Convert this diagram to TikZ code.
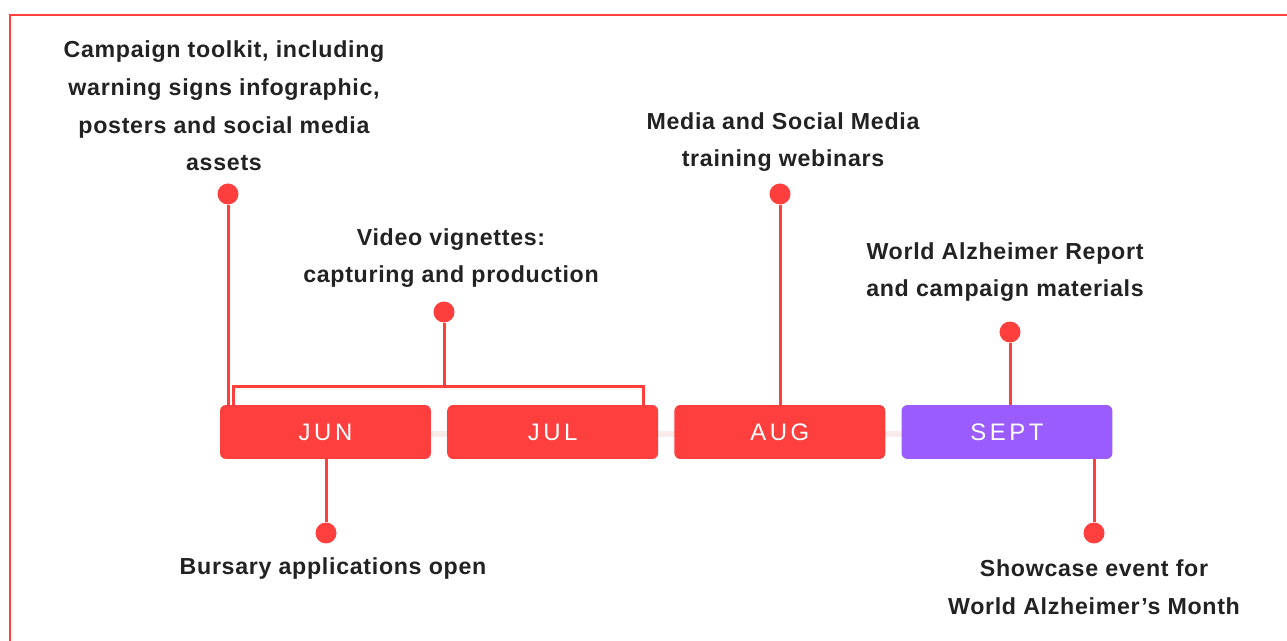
\documentclass[tikz,border=0pt]{standalone}
\usepackage{fontspec}
\setmainfont{Liberation Sans}
\newfontfamily\monthfont[LetterSpace=15]{Liberation Sans}
\newfontfamily\notefont[LetterSpace=3]{Liberation Sans}
\usetikzlibrary{positioning}
\definecolor{tlred}{HTML}{FF3E3E}
\definecolor{tlpurple}{HTML}{9A5CFF}
\definecolor{tltext}{HTML}{222222}
\definecolor{tlbar}{HTML}{FBECEC}
\tikzset {
  month/.style = {
    fill = tlred,
    rounded corners = 1.2mm,
    minimum width = 4.22cm,
    minimum height = 1.08cm,
    inner sep = 0,
    text = white,
    font = \monthfont\fontsize{13.6}{16}\selectfont
  },
  % the month of the event
  monthnow/.style = {
    month,
    fill = tlpurple
  },
  % end of a stem
  dot/.style = {
    circle,
    fill = tlred,
    minimum size = 0.42cm,
    inner sep = 0
  },
  note/.style = {
    align = center,
    inner sep = 0,
    text = tltext,
    font = \notefont\bfseries\fontsize{13.2}{21.5}\selectfont
  },
  stem/.style = {
    draw = tlred,
    line width = 0.06cm
  },
  node distance = 0.31cm
}

\begin{document}
\begin{tikzpicture}[x=0.02cm, y=-0.02cm]
    \useasboundingbox (0,0) rectangle (1287,641);

    % frame
    \draw[tlred, line width=0.03cm] (10,641) |- (1287,15);

    % faint bar behind the months
    \coordinate (bar start) at (326,434);
    \coordinate (bar end) at (1006,434);
    \draw[tlbar, line width=0.14cm] (bar start) -- (bar end);

    \node[month] (jun) at (325.5,432) {JUN};
    \node[month] (jul) [right=of jun] {JUL};
    \node[month] (aug) [right=of jul] {AUG};
    \node[monthnow] (sept) [right=of aug] {SEPT};

    \node[dot] (toolkit dot) at (228,194) {};
    \node[dot] (video dot) at (444,312) {};
    \node[dot] (webinar dot) at (780,194) {};
    \node[dot] (report dot) at (1010,332) {};
    \node[dot] (bursary dot) at (326,533) {};
    \node[dot] (showcase dot) at (1094,533) {};

    \node[note] (toolkit) at (224,106)
      {Campaign toolkit, including\\warning signs infographic,\\posters and social media\\assets};
    \node[note] (video) at (451,258) {Video vignettes:\\capturing and production};
    \node[note] (webinar) at (783,142) {Media and Social Media\\training webinars};
    \node[note] (report) at (1005,272) {World Alzheimer Report\\and campaign materials};
    \node[note] (bursary) at (333,569) {Bursary applications open};
    \node[note] (showcase) at (1094,587) {Showcase event for\\World Alzheimer’s Month};

    % stems
    \draw[stem] (toolkit dot) -- (toolkit dot |- jun.north);
    \draw[stem] (webinar dot) -- (webinar dot |- aug.north);
    \draw[stem] (report dot) -- (report dot |- sept.north);
    \draw[stem] (bursary dot) -- (bursary dot |- jun.south);
    \draw[stem] (showcase dot) -- (showcase dot |- sept.south);

    % bracket over jun and jul
    \coordinate (bracket) at (444,387);
    \coordinate (bracket left) at (233,405);
    \coordinate (bracket right) at (643,405);
    \draw[stem] (video dot) -- (bracket);
    \draw[stem] (bracket left)
      -- ++(0,-18)
      -| (bracket right);
\end{tikzpicture}
\end{document}
